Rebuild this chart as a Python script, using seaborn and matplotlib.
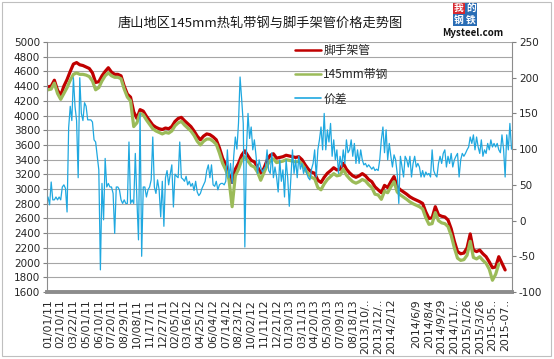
import numpy as np
import matplotlib
matplotlib.use("Agg")
import matplotlib.pyplot as plt
from matplotlib.patches import Rectangle
from matplotlib.lines import Line2D
import seaborn as sns

# category labels, one every 40 trading days (slot 28 is blank in the original)
x_labels = ["01/01/11", "02/10/11", "03/22/11", "05/01/11", "06/10/11", "07/20/11",
            "08/29/11", "10/08/11", "11/17/11", "12/27/11", "02/05/12", "03/16/12",
            "04/25/12", "06/04/12", "07/14/12", "08/23/12", "10/02/12", "11/11/12",
            "12/21/12", "01/30/13", "03/11/13", "04/20/13", "05/30/13", "07/09/13",
            "08/18/13", "2013/10/..", "2013/12/..", "2014/2/12", "", "2014/6/9",
            "2014/8/4", "2014/9/29", "2014/11/..", "2015/1/26", "2015/3/26",
            "2015-05..", "2015-07.."]

# 脚手架管 price, 4 readings per label interval
pipe_price = [
    4390, 4400, 4480, 4345,  4275, 4400, 4490, 4600,  4700, 4720, 4690, 4680,
    4660, 4640, 4580, 4450,  4460, 4540, 4600, 4650,  4590, 4560, 4560, 4540,
    4400, 4290, 4250, 4050,  3960, 4080, 4060, 3990,  3930, 3870, 3840, 3820,
    3810, 3830, 3820, 3850,  3920, 3960, 3975, 3930,  3890, 3850, 3790, 3720,
    3670, 3720, 3750, 3740,  3710, 3670, 3560, 3420,  3330, 3200, 3090, 3270,
    3350, 3460, 3520, 3450,  3390, 3370, 3300, 3220,  3280, 3390, 3460, 3480,
    3420, 3430, 3440, 3460,  3450, 3440, 3430, 3440,  3400, 3330, 3270, 3230,
    3215, 3120, 3090, 3160,  3215, 3250, 3290, 3260,  3270, 3350, 3270, 3220,
    3180, 3160, 3180, 3210,  3180, 3130, 3100, 3030,  2990, 2950, 3050, 3020,
    3100, 3170, 3030, 2990,  2960, 2930, 2895, 2870,  2850, 2830, 2805, 2690,
    2600, 2610, 2760, 2650,  2630, 2620, 2580, 2460,  2290, 2150, 2120, 2130,
    2200, 2390, 2170, 2150,  2170, 2120, 2080, 2010,  1930, 1940, 2080, 1990,
    1900]

# 145mm带钢 price (its series stops a little before the pipe series)
strip_price = [
    4350, 4360, 4440, 4300,  4220, 4300, 4380, 4480,  4560, 4580, 4560, 4560,
    4550, 4530, 4470, 4350,  4380, 4470, 4540, 4580,  4540, 4520, 4520, 4500,
    4360, 4250, 4200, 3850,  3900, 4030, 4010, 3940,  3880, 3820, 3790, 3770,
    3750, 3770, 3760, 3790,  3860, 3900, 3920, 3870,  3830, 3790, 3730, 3650,
    3600, 3650, 3680, 3680,  3650, 3610, 3490, 3350,  3260, 3130, 2760, 3180,
    3270, 3390, 3440, 3380,  3320, 3300, 3230, 3120,  3220, 3320, 3390, 3410,
    3360, 3370, 3380, 3400,  3390, 3380, 3370, 3380,  3340, 3270, 3200, 3160,
    3140, 3020, 2990, 3070,  3130, 3170, 3210, 3180,  3190, 3270, 3190, 3140,
    3100, 3080, 3100, 3130,  3110, 3060, 3020, 2930,  2920, 2860, 2970, 2950,
    3030, 3100, 2960, 2920,  2890, 2860, 2825, 2800,  2780, 2760, 2730, 2610,
    2520, 2530, 2680, 2570,  2540, 2530, 2490, 2370,  2200, 2060, 2030, 2040,
    2100, 2290, 2070, 2050,  2080, 2030, 1990, 1910,  1760, 1840, 1980]

# 价差 (right axis), 8 readings per label interval
spread = [
    33, 22, 54, 29, 29, 33, 29, 33,      29, 47, 50, 45, 12, 130, 160, 140,
    200, 160, 140, 60, 200, 150, 140, 165,  160, 141, 141, 141, 138, 113, 110, 90,
    71, -69, 52, 1, 87, 47, 52, 47,      47, 38, -18, 47, 47, 43, 29, 24,
    29, 24, 24, 110, 24, 29, 24, 94,     29, -27, 150, -50, 47, 47, 33, 43,
    47, 57, 117, 47, 38, 57, 43, 5,      55, -8, 60, 70, 50, 65, 78, 19,
    65, 62, 60, 110, 60, 58, 55, 62,     50, 55, 48, 52, 42, 55, 40, 35,
    38, 45, 50, 55, 70, 78, 60, 78,      50, 48, 55, 43, 50, 52, 52, 50,
    55, 99, 60, 80, 52, 90, 117, 100,    136, 201, 170, 136, -37, 99, 150, 115,
    131, 99, 113, 92, 66, 85, 75, 68,    72, 75, 99, 70, 66, 95, 60, 75,
    61, 40, 85, 55, 71, 33, 85, 60,      20, 60, 99, 66, 85, 60, 90, 72,
    80, 66, 75, 66, 60, 57, 72, 80,      99, 61, 99, 113, 131, 99, 150, 99,
    127, 110, 136, 90, 113, 85, 99, 66,  90, 75, 99, 80, 113, 95, 99, 113,
    90, 108, 80, 99, 80, 99, 85, 78,     80, 75, 78, 75, 72, 75, 70, 72,
    70, 85, 113, 131, 95, 127, 85, 108,  90, 75, 92, 85, 66, 24, 90, 75,
    61, 90, 85, 75, 90, 61, 80, 90,      75, 80, 75, 61, 70, 61, 68, 64,
    66, 61, 99, 70, 64, 61, 80, 90,      80, 94, 99, 75, 90, 80, 94, 75,
    85, 90, 94, 61, 85, 94, 90, 94,      99, 103, 117, 108, 120, 99, 117, 103,
    94, 113, 90, 99, 94, 108, 99, 113,   103, 108, 103, 108, 99, 95, 120, 100,
    61, 120, 99, 136, 100]

RED = "#C00000"
GREEN = "#9BBB59"
BLUE = "#1FA8E0"
GRID = "#a6a6a6"

sns.set_theme(style="white")
plt.rcParams["font.family"] = ["Noto Sans CJK SC", "DejaVu Sans"]
plt.rcParams["axes.unicode_minus"] = False

W, H = 554, 359
fig = plt.figure(figsize=(W / 100, H / 100), dpi=100)
ax = fig.add_axes([47 / W, 1 - 292 / H, 465 / W, 250 / H])
ax2 = ax.twinx()

sns.lineplot(x=np.arange(len(pipe_price)) / 4, y=pipe_price, ax=ax,
             color=RED, linewidth=2.3)
sns.lineplot(x=np.arange(len(strip_price)) / 4, y=strip_price, ax=ax,
             color=GREEN, linewidth=2.3)
sns.lineplot(x=np.arange(len(spread)) / 8, y=spread, ax=ax2,
             color=BLUE, linewidth=0.9)

ax.set_xlim(-0.08, 36.54)
ax.set_ylim(1600, 5000)
ax.set_yticks(np.arange(1600, 5001, 200))
ax2.set_ylim(-100, 250)
ax2.set_yticks(np.arange(-100, 251, 50))
ax.set_xticks(range(len(x_labels)))
ax.set_xticklabels(x_labels, rotation=90, fontsize=7.8, family="DejaVu Sans")
for lab in ax.get_yticklabels() + ax2.get_yticklabels():
    lab.set_family("DejaVu Sans")

ax.yaxis.grid(True, color=GRID, linewidth=0.8)
ax.set_axisbelow(True)
ax.tick_params(axis="x", length=0, pad=5)
ax.tick_params(axis="y", left=True, length=3, width=0.8, color="#808080",
               labelsize=7.5, pad=2)
ax2.tick_params(axis="y", right=True, length=3, width=0.8, color="#808080",
                labelsize=7.5, pad=2)

for s in ["top", "right"]:
    ax.spines[s].set_visible(False)
ax.spines["left"].set_color("#8c8c8c")
ax.spines["left"].set_linewidth(0.8)
ax.spines["bottom"].set_color("#8c8c8c")
ax.spines["bottom"].set_linewidth(2.8)
for s in ["top", "left", "bottom"]:
    ax2.spines[s].set_visible(False)
ax2.spines["right"].set_color("#8c8c8c")
ax2.spines["right"].set_linewidth(0.8)
ax.set_xlabel("")
ax.set_ylabel("")
ax2.set_ylabel("")

handles = [Line2D([], [], color=RED, lw=1.8),
           Line2D([], [], color=GREEN, lw=1.8),
           Line2D([], [], color=BLUE, lw=1.2)]
ax2.legend(handles, ["脚手架管", "145mm带钢", "价差"], loc="upper left",
           bbox_to_anchor=(295 / W, 1 - 44 / H), bbox_transform=fig.transFigure,
           frameon=False, fontsize=8.5, handlelength=2.2, handletextpad=0.2,
           labelspacing=0.95, borderpad=0, borderaxespad=0)

fig.text(260 / W, 1 - 23 / H, "唐山地区145mm热轧带钢与脚手架管价格走势图",
         ha="center", va="center", fontsize=9.5, color="#1a1a1a")

# Mysteel logo
def logo_box(x, y, c, ch):
    fig.patches.append(Rectangle((x / W, 1 - (y + 12) / H), 12 / W, 12 / H,
                                 transform=fig.transFigure, facecolor=c,
                                 edgecolor="none"))
    fig.text((x + 6) / W, 1 - (y + 6) / H, ch, ha="center", va="center",
             fontsize=7, color="white", fontweight="bold")

logo_box(453, 2, "#d7282f", "我")
logo_box(465, 2, "#2a6db5", "的")
logo_box(453, 14, "#2a6db5", "钢")
logo_box(465, 14, "#2a6db5", "铁")
fig.text(473 / W, 1 - 33 / H, "Mysteel.com", ha="center", va="center",
         fontsize=7, fontweight="bold", color="#111111")

fig.patches.append(Rectangle((1.5 / W, 3.5 / H), (W - 5) / W, (H - 5) / H,
                             transform=fig.transFigure, facecolor="none",
                             edgecolor="#bfbfbf", linewidth=0.8))

fig.savefig("out.png", dpi=100)
